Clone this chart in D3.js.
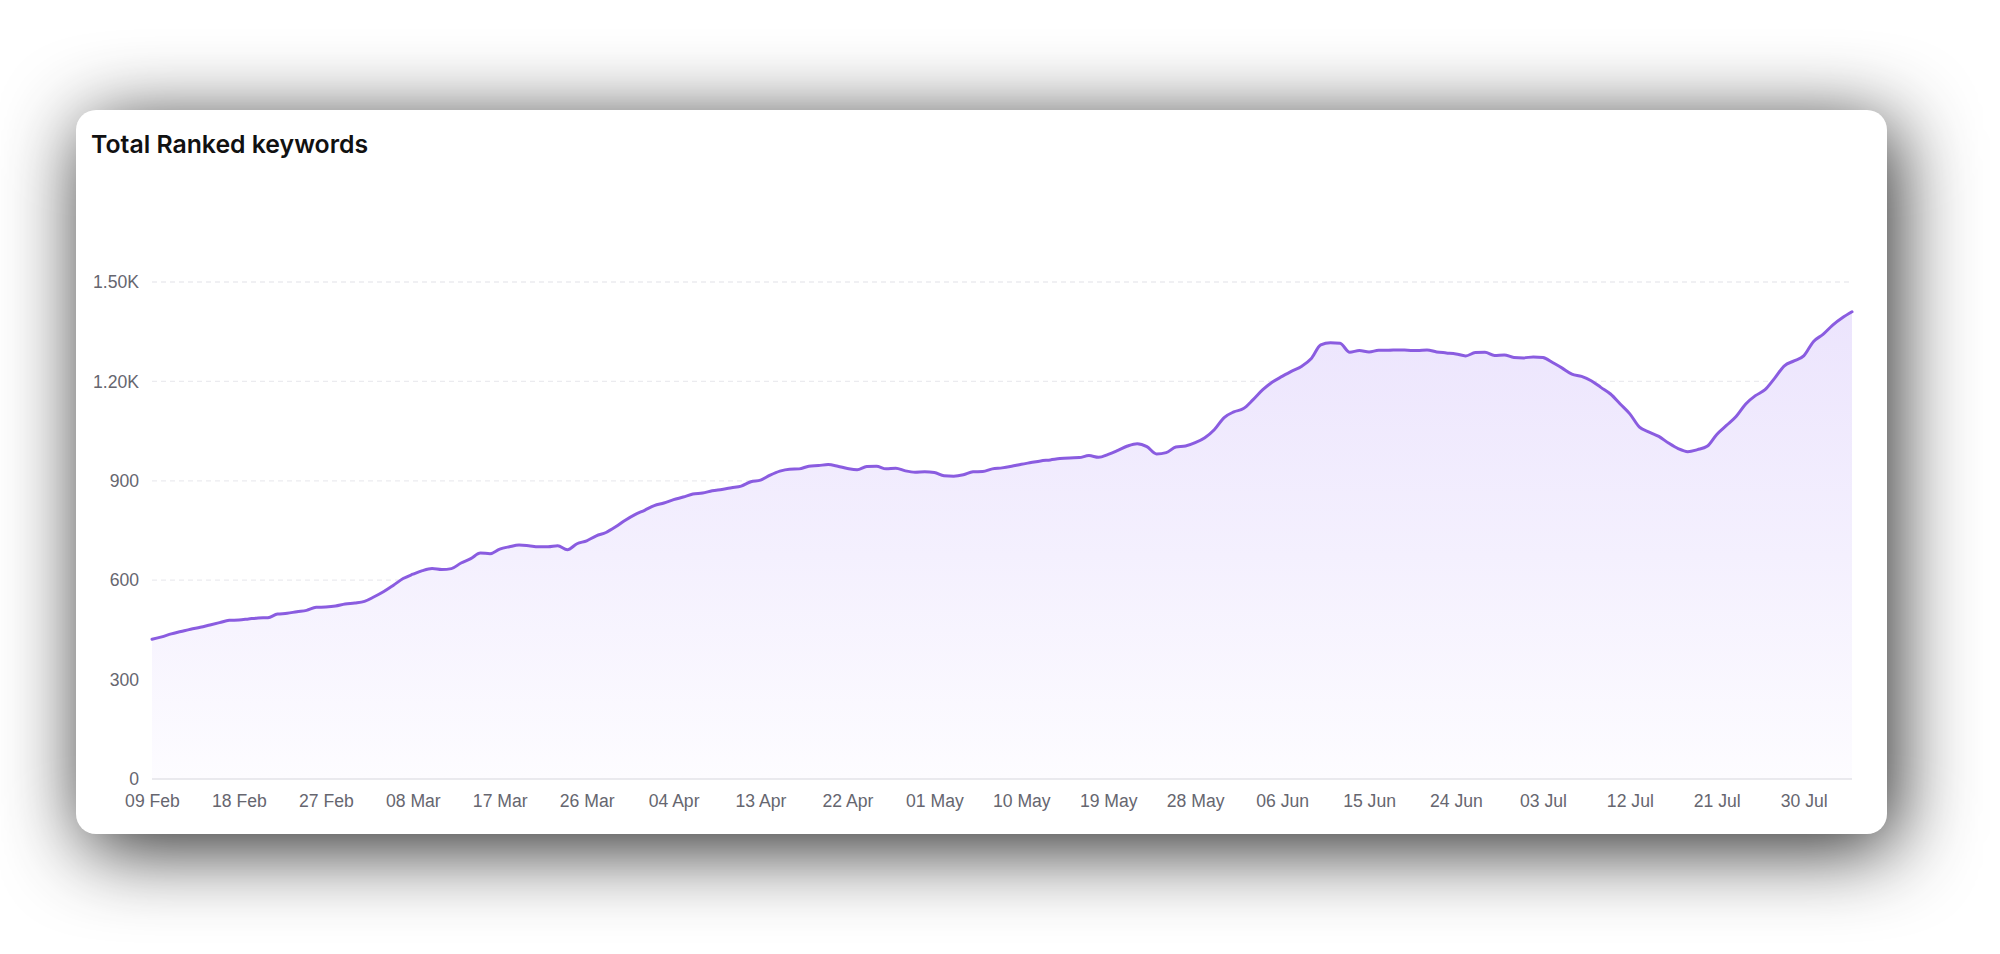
<!DOCTYPE html>
<html>
<head>
<meta charset="utf-8">
<script src="https://cdn.jsdelivr.net/npm/d3@7"></script>
<style>
  html, body { margin: 0; padding: 0; background: #ffffff; }
  body { width: 2000px; height: 954px; position: relative; overflow: hidden; }
  #card {
    position: absolute;
    left: 76px; top: 110px;
    width: 1811px; height: 724px;
    background: #ffffff;
    border-radius: 20px;
    box-shadow: 8px 14px 80px 0 rgba(0, 0, 0, 0.85);
  }
  #chart { position: absolute; left: 0; top: 0; }
</style>
</head>
<body>
<div id="card"></div>
<div id="chart"></div>
<script>
// Data
const startDate = '2023-02-09'
const keywordCounts = [
  422, 429, 438, 445, 452, 458, 465, 472, 479, 480,
  483, 486, 487, 498, 500, 505, 509, 518, 519, 522,
  528, 531, 536, 550, 566, 585, 605, 618, 629, 635,
  632, 635, 652, 665, 682, 680, 694, 701, 706, 704,
  701, 701, 704, 692, 710, 719, 734, 744, 761, 781,
  798, 811, 825, 833, 843, 851, 860, 863, 870, 874,
  879, 884, 897, 902, 917, 929, 935, 936, 944, 946,
  949, 944, 937, 933, 943, 944, 936, 938, 930, 926,
  927, 925, 915, 914, 918, 927, 928, 936, 939, 944,
  950, 955, 960, 963, 967, 969, 970, 976, 971, 980,
  992, 1005, 1012, 1003, 981, 985, 1002, 1005, 1015, 1030,
  1055, 1091, 1108, 1118, 1145, 1175, 1198, 1215, 1231, 1245,
  1268, 1310, 1317, 1315, 1288, 1293, 1289, 1294, 1294, 1295,
  1294, 1293, 1295, 1289, 1286, 1283, 1277, 1287, 1288, 1278,
  1280, 1272, 1271, 1274, 1272, 1257, 1240, 1222, 1215, 1202,
  1182, 1162, 1132, 1102, 1062, 1047, 1034, 1014, 997, 988,
  994, 1004, 1040, 1067, 1094, 1132, 1157, 1175, 1210, 1247,
  1262, 1277, 1320, 1342, 1370, 1392, 1410
]
const xTickLabels = ['09 Feb', '18 Feb', '27 Feb', '08 Mar', '17 Mar', '26 Mar', '04 Apr',
  '13 Apr', '22 Apr', '01 May', '10 May', '19 May', '28 May', '06 Jun', '15 Jun',
  '24 Jun', '03 Jul', '12 Jul', '21 Jul', '30 Jul']
const yTickValues = [0, 300, 600, 900, 1200, 1500]
const yTickLabels = ['0', '300', '600', '900', '1.20K', '1.50K']
const chartTitle = 'Total Ranked keywords'

function draw() {
  const parseDay = d3.timeParse('%Y-%m-%d')
  const parseTick = d3.timeParse('%d %b %Y')
  const start = parseDay(startDate)
  const dataset = keywordCounts.map((v, i) => ({ date: d3.timeDay.offset(start, i), value: v }))
  const xAccessor = d => d.date
  const yAccessor = d => d.value
  const tickDates = xTickLabels.map(t => parseTick(t + ' 2023'))

  // Dimensions
  const dimensions = {
    width: 2000,
    height: 954,
    left: 152,
    right: 1852,
    top: 282,
    bottom: 779
  }

  const svg = d3.select('#chart')
    .append('svg')
    .attr('width', dimensions.width)
    .attr('height', dimensions.height)

  // Scales
  const xScale = d3.scaleTime()
    .domain(d3.extent(dataset, xAccessor))
    .range([dimensions.left, dimensions.right])

  const yScale = d3.scaleLinear()
    .domain([0, 1500])
    .range([dimensions.bottom, dimensions.top])

  // Title
  svg.append('text')
    .attr('x', 91)
    .attr('y', 153)
    .style('font-family', 'Inter, "Liberation Sans", sans-serif')
    .style('font-weight', 600)
    .style('font-size', '24.8px')
    .style('fill', '#111111')
    .text(chartTitle)

  // Gridlines
  svg.append('g')
    .selectAll('line')
    .data(yTickValues.filter(v => v > 0))
    .join('line')
    .attr('x1', dimensions.left)
    .attr('x2', dimensions.right)
    .attr('y1', d => yScale(d))
    .attr('y2', d => yScale(d))
    .attr('stroke', '#ebebef')
    .attr('stroke-width', 1.3)
    .attr('stroke-dasharray', '5 4')

  // Area gradient
  const defs = svg.append('defs')
  const grad = defs.append('linearGradient')
    .attr('id', 'areaFill')
    .attr('gradientUnits', 'userSpaceOnUse')
    .attr('x1', 0).attr('x2', 0)
    .attr('y1', yScale(1500)).attr('y2', yScale(0))
  grad.append('stop').attr('offset', '0%').attr('stop-color', '#ebe3fd')
  grad.append('stop').attr('offset', '55%').attr('stop-color', '#f4f0fe')
  grad.append('stop').attr('offset', '100%').attr('stop-color', '#fdfcff')

  const area = d3.area()
    .x(d => xScale(xAccessor(d)))
    .y0(yScale(0))
    .y1(d => yScale(yAccessor(d)))
    .curve(d3.curveMonotoneX)

  svg.append('path')
    .datum(dataset)
    .attr('d', area)
    .attr('fill', 'url(#areaFill)')

  // Baseline
  svg.append('line')
    .attr('x1', dimensions.left)
    .attr('x2', dimensions.right)
    .attr('y1', yScale(0))
    .attr('y2', yScale(0))
    .attr('stroke', '#e3e3e8')
    .attr('stroke-width', 1.5)

  // Line
  const line = d3.line()
    .x(d => xScale(xAccessor(d)))
    .y(d => yScale(yAccessor(d)))
    .curve(d3.curveMonotoneX)

  svg.append('path')
    .datum(dataset)
    .attr('d', line)
    .attr('fill', 'none')
    .attr('stroke', '#8a5ce0')
    .attr('stroke-width', 3)
    .attr('stroke-linejoin', 'round')
    .attr('stroke-linecap', 'round')

  // Axes
  const xAxis = d3.axisBottom(xScale)
    .tickValues(tickDates)
    .tickFormat((d, i) => xTickLabels[i])
    .tickSize(0)
    .tickPadding(16)

  const xAxisGroup = svg.append('g')
    .attr('transform', `translate(0, ${yScale(0)})`)
    .call(xAxis)

  const yAxis = d3.axisLeft(yScale)
    .tickValues(yTickValues)
    .tickFormat((d, i) => yTickLabels[i])
    .tickSize(0)
    .tickPadding(13)

  const yAxisGroup = svg.append('g')
    .attr('transform', `translate(${dimensions.left}, 0)`)
    .call(yAxis)

  ;[xAxisGroup, yAxisGroup].forEach(g => {
    g.select('.domain').remove()
    g.selectAll('text')
      .style('font-family', '"Liberation Sans", Arial, sans-serif')
      .style('font-size', '17.6px')
      .style('fill', '#66666f')
  })
}

draw()
</script>
</body>
</html>
